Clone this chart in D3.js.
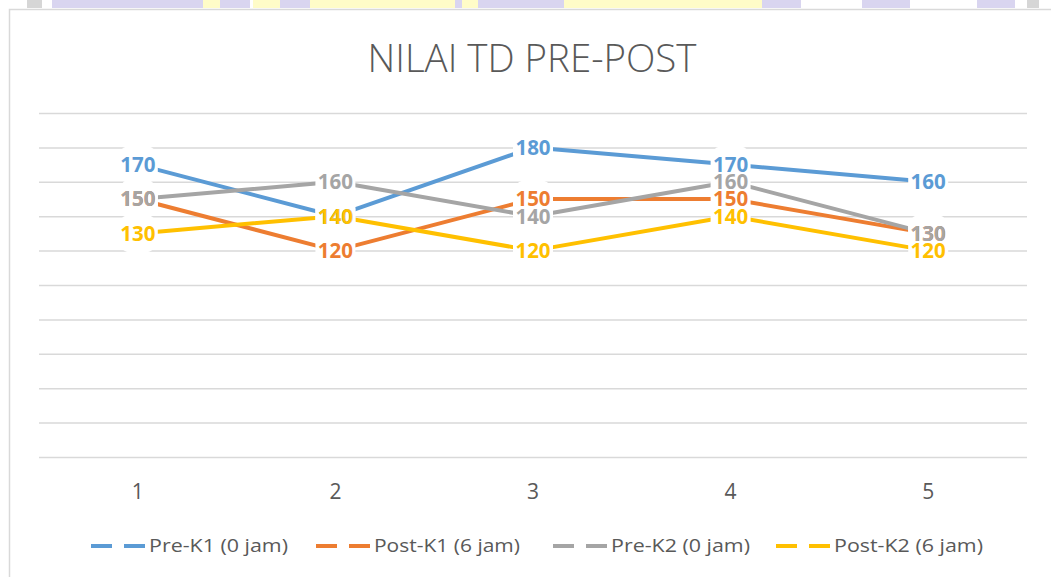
<!DOCTYPE html>
<html>
<head>
<meta charset="utf-8">
<script src="https://cdn.jsdelivr.net/npm/d3@7"></script>
<style>
  html, body { margin: 0; padding: 0; background: #ffffff; }
  svg { display: block; }
</style>
</head>
<body>
<svg id="chart" width="1051" height="577"></svg>
<script>
// ---- data ----
const title = "NILAI TD PRE-POST";
const categories = ["1", "2", "3", "4", "5"];
const seriesNames = ["Pre-K1 (0 jam)", "Post-K1 (6 jam)", "Pre-K2 (0 jam)", "Post-K2 (6 jam)"];
const preK1 = [170, 140, 180, 170, 160];
const postK1 = [150, 120, 150, 150, 130];
const preK2 = [150, 160, 140, 160, 130];
const postK2 = [130, 140, 120, 140, 120];
const yTicks = [0, 20, 40, 60, 80, 100, 120, 140, 160, 180, 200];
const seriesColors = ["#5B9BD5", "#ED7D31", "#A5A5A5", "#FFC000"];

const series = [preK1, postK1, preK2, postK2].map((vals, i) => ({
  name: seriesNames[i], color: seriesColors[i],
  values: vals.map((v, j) => ({ cat: categories[j], v }))
}));

const svg = d3.select("#chart");

// ---- watermark strip at top (approximation) ----
const wm = [
  [27, 42, "#d6d6d6"], [52, 203, "#d9d5f0"], [203, 220, "#fffcc8"], [220, 250, "#d9d5f0"],
  [253, 280, "#fffcc8"], [280, 310, "#d9d5f0"], [310, 455, "#fffcc8"], [455, 462, "#d9d5f0"],
  [462, 478, "#fffcc8"], [478, 564, "#d9d5f0"], [564, 762, "#fffcc8"], [762, 801, "#d9d5f0"],
  [862, 910, "#d9d5f0"], [977, 1015, "#d9d5f0"], [1027, 1039, "#d6d6d6"]
];
svg.selectAll("rect.wm").data(wm).join("rect")
  .attr("class", "wm")
  .attr("x", d => d[0]).attr("y", 0)
  .attr("width", d => d[1] - d[0]).attr("height", 8)
  .attr("fill", d => d[2]);

// ---- chart border ----
svg.append("path")
  .attr("d", "M9.5,577 L9.5,9.5 L1051,9.5")
  .attr("fill", "none").attr("stroke", "#d9d9d9").attr("stroke-width", 1.5);

// ---- scales ----
const x = d3.scaleBand().domain(categories).range([39, 1027]);
const y = d3.scaleLinear().domain([0, 200]).range([457, 113]);
const cx = c => x(c) + x.bandwidth() / 2;

// ---- title ----
svg.append("text")
  .attr("x", 532).attr("y", 72)
  .attr("text-anchor", "middle")
  .attr("font-family", "'Open Sans', sans-serif")
  .attr("font-weight", 300)
  .attr("font-size", 38)
  .attr("fill", "#595959")
  .attr("textLength", 329).attr("lengthAdjust", "spacingAndGlyphs")
  .text(title);

// ---- gridlines ----
svg.append("g")
  .attr("transform", "translate(39,0)")
  .call(d3.axisLeft(y).tickValues(yTicks).tickSize(-988).tickFormat(""))
  .call(g => g.select(".domain").remove())
  .call(g => g.selectAll(".tick line").attr("stroke", "#d9d9d9").attr("stroke-width", 1.5));

// ---- x axis labels ----
svg.append("g")
  .attr("transform", "translate(0,457)")
  .call(d3.axisBottom(x).tickSize(0).tickPadding(27))
  .call(g => g.select(".domain").remove())
  .call(g => g.selectAll(".tick text")
    .attr("font-family", "'Open Sans', sans-serif")
    .attr("font-size", 21)
    .attr("fill", "#595959"));

// ---- lines ----
const line = d3.line().x(d => cx(d.cat)).y(d => y(d.v));
svg.append("g").selectAll("path").data(series).join("path")
  .attr("d", s => line(s.values))
  .attr("fill", "none")
  .attr("stroke", s => s.color)
  .attr("stroke-width", 4)
  .attr("stroke-linejoin", "round")
  .attr("stroke-linecap", "round");

// ---- data labels ----
const labels = [];
series.forEach(s => s.values.forEach(d => labels.push({ s, d })));
svg.append("g").selectAll("rect").data(labels).join("rect")
  .attr("x", l => cx(l.d.cat) - 20)
  .attr("y", l => y(l.d.v) - 19)
  .attr("width", 40).attr("height", 38)
  .attr("rx", 14).attr("ry", 12)
  .attr("fill", "#ffffff");
svg.append("g").selectAll("text").data(labels).join("text")
  .attr("x", l => cx(l.d.cat))
  .attr("y", l => y(l.d.v))
  .attr("dy", "0.36em")
  .attr("text-anchor", "middle")
  .attr("font-family", "'Open Sans', sans-serif")
  .attr("font-weight", 700)
  .attr("font-size", 20.5)
  .attr("fill", l => l.s.color)
  .text(l => l.d.v);

// ---- legend ----
const legendX = [91, 316, 553, 776];
const legendTextW = [139, 146, 139, 149];
const lg = svg.append("g").selectAll("g").data(series).join("g")
  .attr("transform", (s, i) => `translate(${legendX[i]},546)`);
lg.append("line")
  .attr("x1", 0).attr("x2", 55).attr("y1", 0).attr("y2", 0)
  .attr("stroke", s => s.color).attr("stroke-width", 4)
  .attr("stroke-dasharray", "21,12");
lg.append("text")
  .attr("x", 58).attr("y", 0).attr("dy", "0.35em")
  .attr("font-family", "'Open Sans', sans-serif")
  .attr("font-size", 18.5)
  .attr("fill", "#595959")
  .attr("textLength", (s, i) => legendTextW[i]).attr("lengthAdjust", "spacingAndGlyphs")
  .text(s => s.name);
</script>
</body>
</html>
